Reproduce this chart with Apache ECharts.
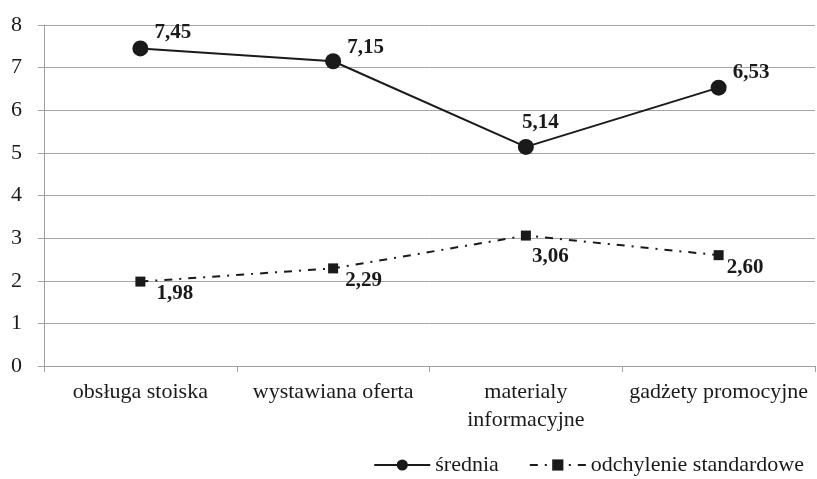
<!DOCTYPE html>
<html>
<head>
<meta charset="utf-8">
<script src="https://cdn.jsdelivr.net/npm/echarts@6/dist/echarts.min.js"></script>
<style>
  html, body { margin: 0; padding: 0; background: #fff; }
  #chart { width: 817px; height: 479px; }
</style>
</head>
<body>
<div id="chart"></div>
<script>
const categories = ['obsługa stoiska', 'wystawiana oferta', 'materialy\ninformacyjne', 'gadżety promocyjne'];
const sredniaValues = [7.45, 7.15, 5.14, 6.53];
const odchylenieValues = [1.98, 2.29, 3.06, 2.60];
const yTicks = [0, 1, 2, 3, 4, 5, 6, 7, 8];

// label placement (px from point centre), as in the source chart
const sredniaLabelOffsets = [[14, -16], [14, -14], [-4, -24], [14, -15]];
const odchylenieLabelOffsets = [[16, 12], [12, 12], [6, 21], [8, 12]];

const fontFamily = '"Liberation Serif", "DejaVu Serif", serif';
const fmt = (p) => p.value.toFixed(2).replace('.', ',');

const withLabels = (values, offsets) => values.map((value, i) => ({
  value,
  label: { offset: offsets[i] },
}));

const labelStyle = {
  show: true,
  position: 'inside',
  align: 'left',
  verticalAlign: 'middle',
  formatter: fmt,
  fontFamily: fontFamily,
  fontSize: 21,
  fontWeight: 'bold',
  color: '#1a1a1a',
};

const myChart = echarts.init(document.getElementById('chart'), null, { renderer: 'canvas' });

const option = {
  backgroundColor: '#ffffff',
  animation: false,
  textStyle: { fontFamily: fontFamily },
  grid: { left: 44, right: 2, top: 25, bottom: 113, containLabel: false },
  legend: {
    right: 8,
    top: 449,
    itemWidth: 56,
    itemHeight: 14,
    itemGap: 30,
    textStyle: { fontFamily: fontFamily, fontSize: 22, color: '#1a1a1a' },
    data: ['średnia', 'odchylenie standardowe'],
  },
  xAxis: {
    type: 'category',
    data: categories,
    boundaryGap: true,
    axisLine: { lineStyle: { color: '#a0a0a0', width: 1 } },
    axisTick: { show: true, length: 6, lineStyle: { color: '#a0a0a0' } },
    axisLabel: {
      color: '#1a1a1a',
      fontFamily: fontFamily,
      fontSize: 22,
      lineHeight: 28,
      margin: 12,
      interval: 0,
    },
  },
  yAxis: {
    type: 'value',
    min: yTicks[0],
    max: yTicks[yTicks.length - 1],
    interval: 1,
    axisLine: { show: true, lineStyle: { color: '#a0a0a0', width: 1 } },
    axisTick: { show: true, length: 6, lineStyle: { color: '#a0a0a0' } },
    axisLabel: {
      color: '#1a1a1a',
      fontFamily: fontFamily,
      fontSize: 22,
      margin: 22,
    },
    splitLine: { lineStyle: { color: '#a6a6a6', width: 1 } },
  },
  series: [
    {
      name: 'średnia',
      type: 'line',
      data: withLabels(sredniaValues, sredniaLabelOffsets),
      symbol: 'circle',
      symbolSize: 16,
      itemStyle: { color: '#1a1a1a' },
      lineStyle: { color: '#1a1a1a', width: 2 },
      label: labelStyle,
    },
    {
      name: 'odchylenie standardowe',
      type: 'line',
      data: withLabels(odchylenieValues, odchylenieLabelOffsets),
      symbol: 'rect',
      symbolSize: 10,
      itemStyle: { color: '#1a1a1a' },
      lineStyle: { color: '#1a1a1a', width: 2, type: [8, 7, 2, 7] },
      label: labelStyle,
    },
  ],
};

myChart.setOption(option);
window.addEventListener('resize', () => myChart.resize());
</script>
</body>
</html>
